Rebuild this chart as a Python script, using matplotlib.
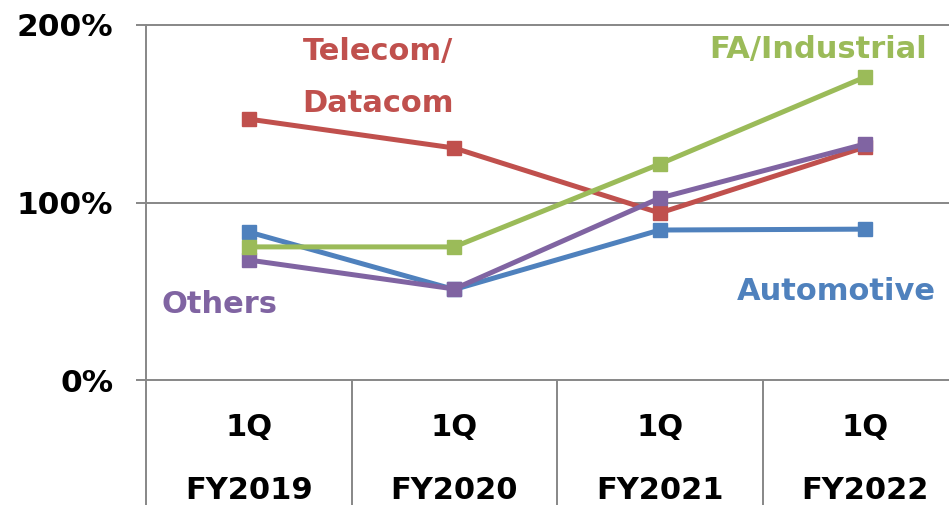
import matplotlib.pyplot as plt

# data (percent)
quarters = ["1Q", "1Q", "1Q", "1Q"]
years = ["FY2019", "FY2020", "FY2021", "FY2022"]
telecom = [147, 130.7, 94.1, 131.3]
automotive = [83.4, 51.0, 84.5, 85.0]
others = [67.6, 51.3, 102.5, 133.0]
industrial = [75.0, 75.0, 121.7, 170.7]

RED = "#C0504D"
BLUE = "#4F81BD"
PURPLE = "#8064A2"
GREEN = "#9BBB59"
GRID = "#878787"

W, H = 949, 505
fig = plt.figure(figsize=(W / 100, H / 100), dpi=100)
# axes runs past the right edge, like the cropped original
ax = fig.add_axes([146 / W, 0, 822 / W, (505 - 25) / H])

x = range(len(years))
for vals, col in [(telecom, RED), (automotive, BLUE), (others, PURPLE), (industrial, GREEN)]:
    ax.plot(x, vals, color=col, lw=3.6, marker="s", ms=10.5, solid_joinstyle="miter", zorder=3)

ax.set_xlim(-0.5, 3.5)
ax.set_ylim(-70.4, 200)

for y in [0, 100, 200]:
    ax.axhline(y, color=GRID, lw=1.4, zorder=1, clip_on=False)
ax.vlines([0.5, 1.5, 2.5], -70.4, 0, color=GRID, lw=1.4, zorder=1)

for s in ["top", "right", "bottom"]:
    ax.spines[s].set_visible(False)
ax.spines["left"].set_color(GRID)
ax.spines["left"].set_linewidth(1.4)

ax.set_xticks([])
ax.set_yticks([0, 100, 200])
ax.set_yticklabels(["0%", "100%", "200%"], fontsize=22.5, fontweight="bold")
ax.tick_params(axis="y", length=7.5, width=1.4, color=GRID, pad=16)

for i in x:
    ax.text(i, -27, quarters[i], ha="center", va="center", fontsize=22, fontweight="bold")
    ax.text(i, -62.5, years[i], ha="center", va="center", fontsize=22, fontweight="bold")

lab = dict(fontsize=22, fontweight="bold", ha="center", va="center")
ax.text(0.63, 185, "Telecom/", color=RED, **lab)
ax.text(0.63, 156, "Datacom", color=RED, **lab)
ax.text(2.77, 186, "FA/Industrial", color=GREEN, **lab)
ax.text(2.86, 50, "Automotive", color=BLUE, **lab)
ax.text(-0.14, 42.5, "Others", color=PURPLE, **lab)

fig.savefig("out.png", dpi=100)
